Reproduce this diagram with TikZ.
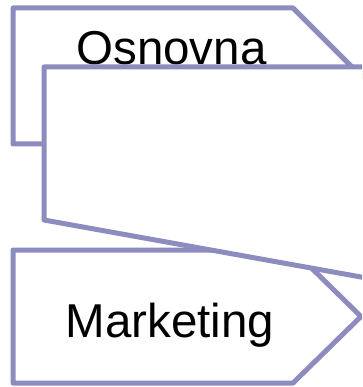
\documentclass[tikz,border=0pt]{standalone}
\usepackage{fontspec}
\setmainfont{Liberation Sans}
\definecolor{tabline}{RGB}{140,140,190}

\begin{document}
\begin{tikzpicture}[x=1pt,y=-1pt,
        tabshape/.style={draw=tabline,line width=5pt,line join=round,fill=white},
        tabtext/.style={font=\fontsize{47.5}{57}\selectfont,anchor=base,inner sep=0pt}]
        \useasboundingbox (0,0) rectangle (362,387);
        \clip (0,0) rectangle (362,387);

        \draw[tabshape] (13,8) -- (293,8) -- (361,76) -- (293,144)
        -- (13,144) -- cycle;
        \node[tabtext] (osnovna) at (171.5,65) {Osnovna};

        \draw[tabshape] (13,250) -- (293,250) -- (361,316.5) -- (293,383)
        -- (13,383) -- cycle;
        \node[tabtext] (marketing) at (170,337) {Marketing};

        % front sheet over both tabs
        \draw[tabshape] (44,67) -- (400,67) -- (400,284) -- (44,220) -- cycle;
      \end{tikzpicture}
\end{document}
